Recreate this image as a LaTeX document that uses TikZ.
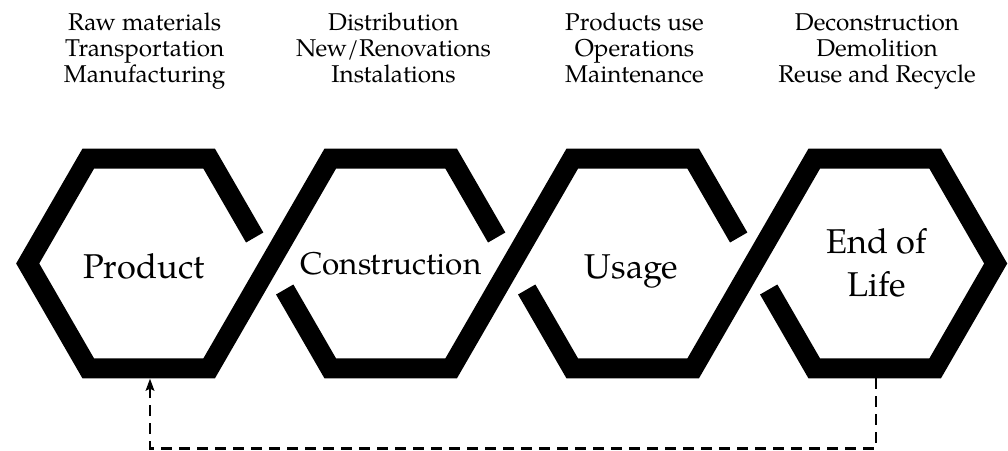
\documentclass[tikz,border=0pt]{standalone}
\usepackage{fontspec}
\setmainfont{TeX Gyre Pagella}
\usetikzlibrary{arrows.meta,calc}
\tikzset{
  band/.style={draw=black, line width=20pt, line join=miter, line cap=butt},
  toptext/.style={anchor=base, inner sep=0pt, font=\fontsize{24.3}{26}\selectfont},
  hexlabel/.style={anchor=base, inner sep=0pt, font=\fontsize{34.4}{42}\selectfont},
  feedback/.style={line width=2.4pt, dash pattern=on 11pt off 7pt, -{Stealth[length=12pt,width=8.5pt,inset=2pt]}}
}
\begin{document}
\begin{tikzpicture}[x=1pt,y=-1pt]
\useasboundingbox (0,0) rectangle (1008,450);
% hexagon corner coordinates
\foreach \k in {0,1,2,3}{
  \pgfmathsetmacro\cx{148.7+242*\k}
  \coordinate (TL\k) at (\cx-60.5,158.71);
  \coordinate (TR\k) at (\cx+60.5,158.71);
  \coordinate (L\k)  at (\cx-121,263.5);
  \coordinate (R\k)  at (\cx+121,263.5);
  \coordinate (BL\k) at (\cx-60.5,368.29);
  \coordinate (BR\k) at (\cx+60.5,368.29);
  \coordinate (U\k)  at (\cx+106,237.5);
  \coordinate (D\k)  at (\cx+136,289.5);
}
% interlocked chain
\draw[band] (U0) -- (TR0) -- (TL0) -- (L0) -- (BL0) -- (BR0) -- (TL1) -- (TR1) -- (U1);
\draw[band] (D0) -- (BL1) -- (BR1) -- (TL2) -- (TR2) -- (U2);
\draw[band] (D1) -- (BL2) -- (BR2) -- (TL3) -- (TR3) -- (R3) -- (BR3) -- (BL3) -- (D2);
% labels inside
\node[hexlabel] (product) at (143.9,278.3) {Product};
\node[hexlabel, font=\fontsize{31.4}{40}\selectfont] (construction) at (390.9,274.3) {Construction};
\node[hexlabel] (usage) at (631.7,278) {Usage};
\node[hexlabel] (endof) at (876.7,253.3) {End of};
\node[hexlabel] (life) at (876.7,296) {Life};
% top texts
\node[toptext] (t11) at (144.7,30.7) {Raw materials};
\node[toptext] (t12) at (144.7,56.7) {Transportation};
\node[toptext] (t13) at (144.7,82.7) {Manufacturing};
\node[toptext] (t21) at (393.5,30.7) {Distribution};
\node[toptext] (t22) at (393.5,56.7) {New/Renovations};
\node[toptext] (t23) at (393.5,82.7) {Instalations};
\node[toptext] (t31) at (634.5,30.7) {Products use};
\node[toptext] (t32) at (634.5,56.7) {Operations};
\node[toptext] (t33) at (634.5,82.7) {Maintenance};
\node[toptext] (t41) at (877,30.7) {Deconstruction};
\node[toptext] (t42) at (877,56.7) {Demolition};
\node[toptext] (t43) at (877,82.7) {Reuse and Recycle};
% feedback arrow
\coordinate (eolbottom) at (875.7,378.3);
\coordinate (prodbottom) at (150,378.6);
\coordinate (brc) at (875.7,448.3);
\coordinate (blc) at (150,448.3);
\draw[feedback] (eolbottom) -- (brc) -- (blc) -- (prodbottom);
\end{tikzpicture}
\end{document}
